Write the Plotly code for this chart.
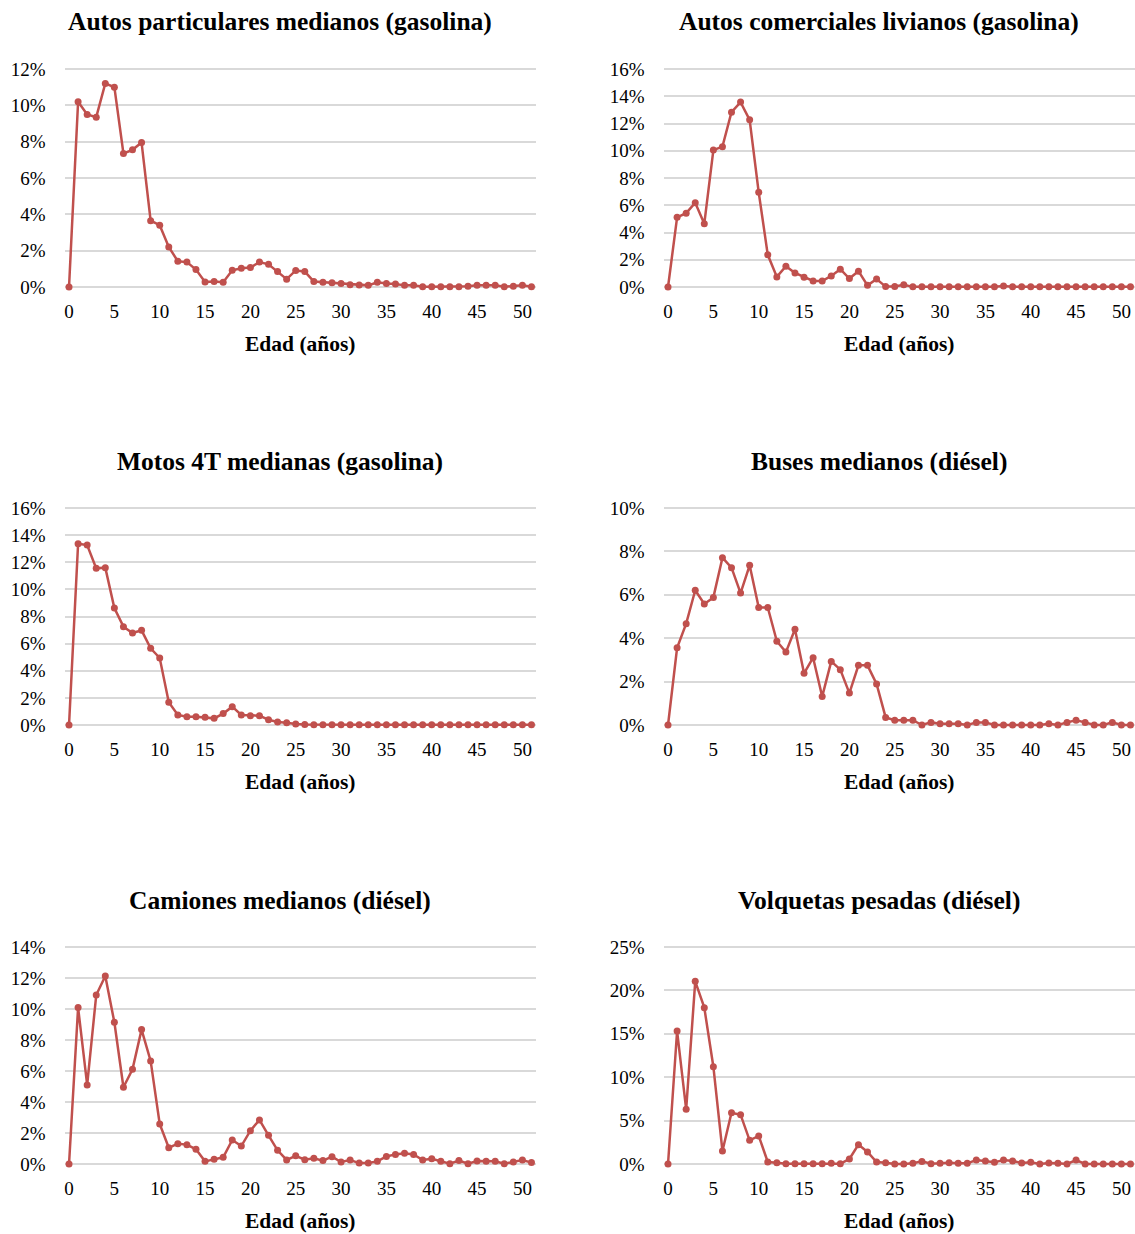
import plotly.graph_objects as go

W, H = 1135, 1234

ages = list(range(52))
x_ticks = list(range(0, 51, 5))

titles = [
    "Autos particulares medianos (gasolina)",
    "Autos comerciales livianos (gasolina)",
    "Motos 4T medianas (gasolina)",
    "Buses medianos (diésel)",
    "Camiones medianos (diésel)",
    "Volquetas pesadas (diésel)",
]

# share of fleet by age, in percent
autos_particulares = [
    0, 10.2, 9.5, 9.35, 11.2, 11.0, 7.35, 7.55, 7.95, 3.65,
    3.4, 2.2, 1.42, 1.37, 0.96, 0.28, 0.3, 0.26, 0.92, 1.03,
    1.07, 1.37, 1.25, 0.85, 0.43, 0.91, 0.85, 0.3, 0.26, 0.24,
    0.19, 0.13, 0.11, 0.09, 0.26, 0.19, 0.17, 0.09, 0.09, 0.02,
    0.02, 0.02, 0.02, 0.01, 0.04, 0.09, 0.09, 0.09, 0.02, 0.04,
    0.09, 0.02,
]
autos_comerciales = [
    0, 5.12, 5.42, 6.18, 4.65, 10.05, 10.3, 12.83, 13.57, 12.27,
    6.95, 2.36, 0.74, 1.53, 1.03, 0.71, 0.44, 0.44, 0.81, 1.31,
    0.62, 1.16, 0.12, 0.59, 0.03, 0.03, 0.17, 0.01, 0.01, 0.01,
    0.01, 0.01, 0.01, 0.01, 0.01, 0.01, 0.01, 0.07, 0.01, 0.01,
    0.01, 0.01, 0.01, 0.01, 0.01, 0.01, 0.01, 0.01, 0.01, 0.01,
    0.01, 0.01,
]
motos_4t = [
    0, 13.37, 13.27, 11.55, 11.6, 8.62, 7.25, 6.78, 6.98, 5.65,
    4.94, 1.67, 0.74, 0.61, 0.61, 0.57, 0.49, 0.84, 1.35, 0.74,
    0.69, 0.69, 0.39, 0.22, 0.17, 0.07, 0.03, 0.02, 0.02, 0.01,
    0.01, 0.01, 0.01, 0.01, 0.01, 0.01, 0.01, 0.01, 0.01, 0.01,
    0.01, 0.01, 0.01, 0.01, 0.01, 0.01, 0.01, 0.01, 0.01, 0.01,
    0.01, 0.01,
]
buses = [
    0, 3.56, 4.67, 6.21, 5.58, 5.88, 7.71, 7.25, 6.08, 7.36,
    5.42, 5.42, 3.86, 3.36, 4.41, 2.38, 3.10, 1.31, 2.93, 2.55,
    1.47, 2.75, 2.75, 1.89, 0.35, 0.22, 0.22, 0.22, 0.0, 0.12,
    0.06, 0.06, 0.06, 0.0, 0.12, 0.12, 0.0, 0.0, 0.0, 0.0,
    0.0, 0.0, 0.06, 0.0, 0.12, 0.22, 0.12, 0.0, 0.0, 0.12,
    0.0, 0.0,
]
camiones = [
    0, 10.09, 5.10, 10.9, 12.13, 9.14, 4.95, 6.11, 8.67, 6.65,
    2.58, 1.05, 1.31, 1.25, 0.95, 0.17, 0.30, 0.43, 1.55, 1.16,
    2.15, 2.84, 1.85, 0.88, 0.26, 0.53, 0.28, 0.37, 0.22, 0.47,
    0.13, 0.26, 0.06, 0.06, 0.17, 0.49, 0.62, 0.69, 0.62, 0.26,
    0.34, 0.17, 0.02, 0.22, 0.02, 0.19, 0.17, 0.17, 0.02, 0.13,
    0.26, 0.09,
]
volquetas = [
    0, 15.32, 6.30, 21.04, 18.01, 11.21, 1.50, 5.91, 5.68, 2.73,
    3.23, 0.23, 0.15, 0.04, 0.02, 0.02, 0.02, 0.02, 0.1, 0.02,
    0.58, 2.23, 1.38, 0.23, 0.15, 0.0, 0.0, 0.08, 0.3, 0.04,
    0.08, 0.15, 0.08, 0.08, 0.46, 0.35, 0.19, 0.46, 0.35, 0.12,
    0.19, 0.0, 0.12, 0.08, 0.0, 0.46, 0.0, 0.0, 0.0, 0.0,
    0.0, 0.0,
]

series = [autos_particulares, autos_comerciales, motos_4t, buses, camiones, volquetas]
y_max = [12, 16, 16, 10, 14, 25]
y_step = [2, 2, 2, 2, 2, 5]

RED = "#C0504D"
GRID = "#D9D9D9"
FONT = "Liberation Serif, Times New Roman, serif"

# plot-area geometry in pixels (left, right) per column and (top, bottom) per row
cols = [(64.5, 536.0), (663.5, 1135.0)]
rows = [(69.0, 287.0), (508.0, 725.0), (947.0, 1164.0)]
EDGE_PX = 2  # extra room so gridlines at 0% and at the top value are kept

fig = go.Figure()
layout = dict(
    width=W, height=H,
    margin=dict(l=0, r=0, t=0, b=0, autoexpand=False),
    paper_bgcolor="white", plot_bgcolor="white",
    showlegend=False,
    font=dict(family=FONT, size=19, color="#000000"),
)
annotations = []

for i, vals in enumerate(series):
    r, c = divmod(i, 2)
    xl, xr = cols[c]
    yt, yb = rows[r]
    n = i + 1
    xa = "x" if n == 1 else f"x{n}"
    ya = "y" if n == 1 else f"y{n}"
    fig.add_trace(go.Scatter(
        x=ages, y=vals, xaxis=xa, yaxis=ya,
        mode="lines+markers",
        line=dict(color=RED, width=2.5),
        marker=dict(color=RED, size=7),
        cliponaxis=False,
        hoverinfo="skip",
    ))
    yt_vals = list(range(0, y_max[i] + 1, y_step[i]))
    pad = y_max[i] * EDGE_PX / (yb - yt)
    layout[f"xaxis{'' if n == 1 else n}"] = dict(
        domain=[xl / W, xr / W], anchor=ya,
        range=[-0.5, 51.5], tickvals=x_ticks,
        showgrid=False, zeroline=False, showline=False,
        ticks="", ticklabelstandoff=9, automargin=False,
        tickfont=dict(family=FONT, size=19),
    )
    layout[f"yaxis{'' if n == 1 else n}"] = dict(
        domain=[1 - (yb + EDGE_PX) / H, 1 - (yt - EDGE_PX) / H], anchor=xa,
        range=[-pad, y_max[i] + pad],
        tickvals=yt_vals, ticktext=[f"{v}%" for v in yt_vals],
        showgrid=True, gridcolor=GRID, gridwidth=1.5,
        zeroline=False, showline=False,
        ticks="", ticklabelstandoff=18, automargin=False,
        tickfont=dict(family=FONT, size=19),
    )
    cx = (xl + xr) / 2
    annotations.append(dict(
        text=f"<b>{titles[i]}</b>", xref="paper", yref="paper",
        x=(cx - 20) / W, y=1 - (yt - 47) / H,
        xanchor="center", yanchor="middle", showarrow=False,
        font=dict(family=FONT, size=25.5),
    ))
    annotations.append(dict(
        text="<b>Edad (años)</b>", xref="paper", yref="paper",
        x=cx / W, y=1 - (yb + 57) / H,
        xanchor="center", yanchor="middle", showarrow=False,
        font=dict(family=FONT, size=21.5),
    ))

layout["annotations"] = annotations
fig.update_layout(**layout)
fig.write_html("out.html")
